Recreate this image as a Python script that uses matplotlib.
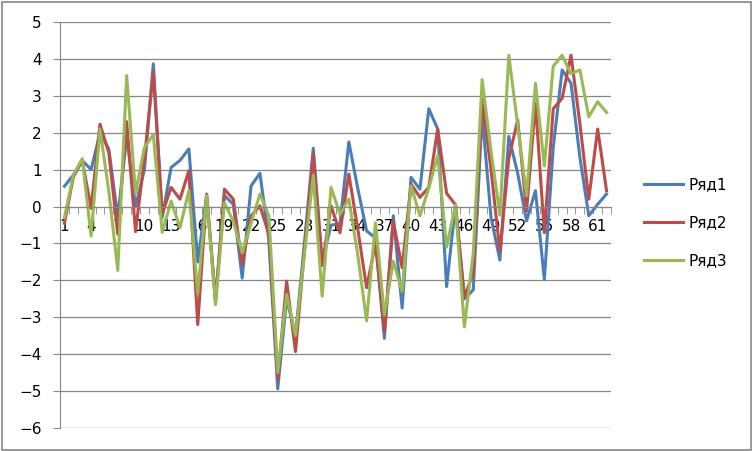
import numpy as np
import matplotlib.pyplot as plt
from matplotlib.patches import Rectangle
from matplotlib.ticker import FixedLocator, NullFormatter

# values, points 1..62
ryad1 = [0.55, 0.85, 1.25, 1.0, 2.0, 1.55, -0.3, 1.9, 0.0, 1.0,
         3.87, -0.3, 1.06, 1.25, 1.56, -1.5, 0.3, -2.5, 0.3, 0.06,
         -1.94, 0.56, 0.9, -0.9, -4.94, -2.5, -3.5, -1.0, 1.58, -1.5,
         -0.5, -0.48, 1.75, 0.5, -0.66, -0.85, -3.57, -0.25, -2.75, 0.79,
         0.47, 2.65, 2.1, -2.17, 0.05, -2.5, -2.26, 2.5, -0.3, -1.45,
         1.9, 0.9, -0.39, 0.43, -1.98, 1.6, 3.7, 3.34, 1.33, -0.25,
         0.06, 0.34]
ryad2 = [-0.45, 0.8, 1.25, -0.05, 2.23, 1.45, -0.75, 2.3, -0.68, 1.3,
         3.65, -0.2, 0.52, 0.2, 0.97, -3.2, 0.34, -2.6, 0.47, 0.2,
         -1.57, -0.25, 0.02, -0.75, -4.7, -2.02, -3.93, -1.2, 1.44, -1.6,
         0.02, -0.71, 0.88, -0.6, -2.2, -1.0, -3.4, -0.4, -1.66, 0.61,
         0.25, 0.52, 2.1, 0.36, 0.05, -2.45, -1.8, 2.9, 1.0, -1.22,
         1.3, 2.35, -0.12, 2.8, -0.71, 2.65, 2.93, 4.1, 2.25, 0.2,
         2.1, 0.43]
ryad3 = [-0.3, 0.85, 1.3, -0.8, 2.1, 0.4, -1.73, 3.55, 0.36, 1.6,
         1.95, -0.7, 0.15, -0.57, 0.43, -2.35, 0.3, -2.66, 0.1, -0.4,
         -1.25, -0.45, 0.34, -0.25, -4.5, -2.38, -3.5, -1.3, 0.85, -2.43,
         0.52, -0.21, 0.2, -1.3, -3.1, -0.44, -2.94, -1.48, -2.3, 0.56,
         -0.25, 0.5, 1.38, -1.1, 0.05, -3.26, -1.27, 3.44, 1.5, -0.23,
         4.1, 2.2, 0.29, 3.34, 1.1, 3.8, 4.1, 3.6, 3.7, 2.43,
         2.84, 2.55]
names = ['Ряд1', 'Ряд2', 'Ряд3']
colors = ['#4A7EBB', '#BE4B48', '#98B954']

x = np.arange(1, len(ryad1) + 1)

fig = plt.figure(figsize=(7.53, 4.51), dpi=100)
ax = fig.add_axes([60 / 753, 1 - 428 / 451, (611 - 60) / 753, (428 - 22) / 451])

for vals, name, col in zip([ryad1, ryad2, ryad3], names, colors):
    ax.plot(x, vals, color=col, lw=2.2, label=name, solid_joinstyle='round')

grey = '#868686'
ax.set_xlim(0.5, len(x) + 0.5)
ax.set_ylim(-6, 5)
ax.set_yticks(range(-6, 6))
ax.yaxis.grid(True, color=grey, lw=0.9)
ax.set_axisbelow(True)

for s in ['top', 'right']:
    ax.spines[s].set_visible(False)
ax.spines['left'].set_color(grey)
ax.spines['bottom'].set_color(grey)
ax.spines['bottom'].set_position(('data', 0))

# labels every 3rd category, small ticks between categories
ax.set_xticks(x[::3])
ax.set_xticklabels([str(v) for v in x[::3]])
ax.xaxis.set_minor_locator(FixedLocator(np.arange(0.5, len(x) + 1, 1)))
ax.xaxis.set_minor_formatter(NullFormatter())
ax.tick_params(axis='x', which='major', length=0, pad=9, labelsize=11)
ax.tick_params(axis='x', which='minor', length=5, color=grey, direction='out')
ax.tick_params(axis='y', length=5, color=grey, labelsize=11, pad=8)

leg = fig.legend(loc='center left', bbox_to_anchor=(630 / 753, 1 - 223 / 451),
                 frameon=False, fontsize=11, handlelength=2.6, labelspacing=1.5,
                 handletextpad=0.3)
for h in leg.get_lines():
    h.set_linewidth(2.2)

fig.patches.append(Rectangle((0.002, 0.003), 0.995, 0.993, transform=fig.transFigure,
                             fill=False, edgecolor=grey, lw=1.2))

fig.savefig('out.png', dpi=100)
